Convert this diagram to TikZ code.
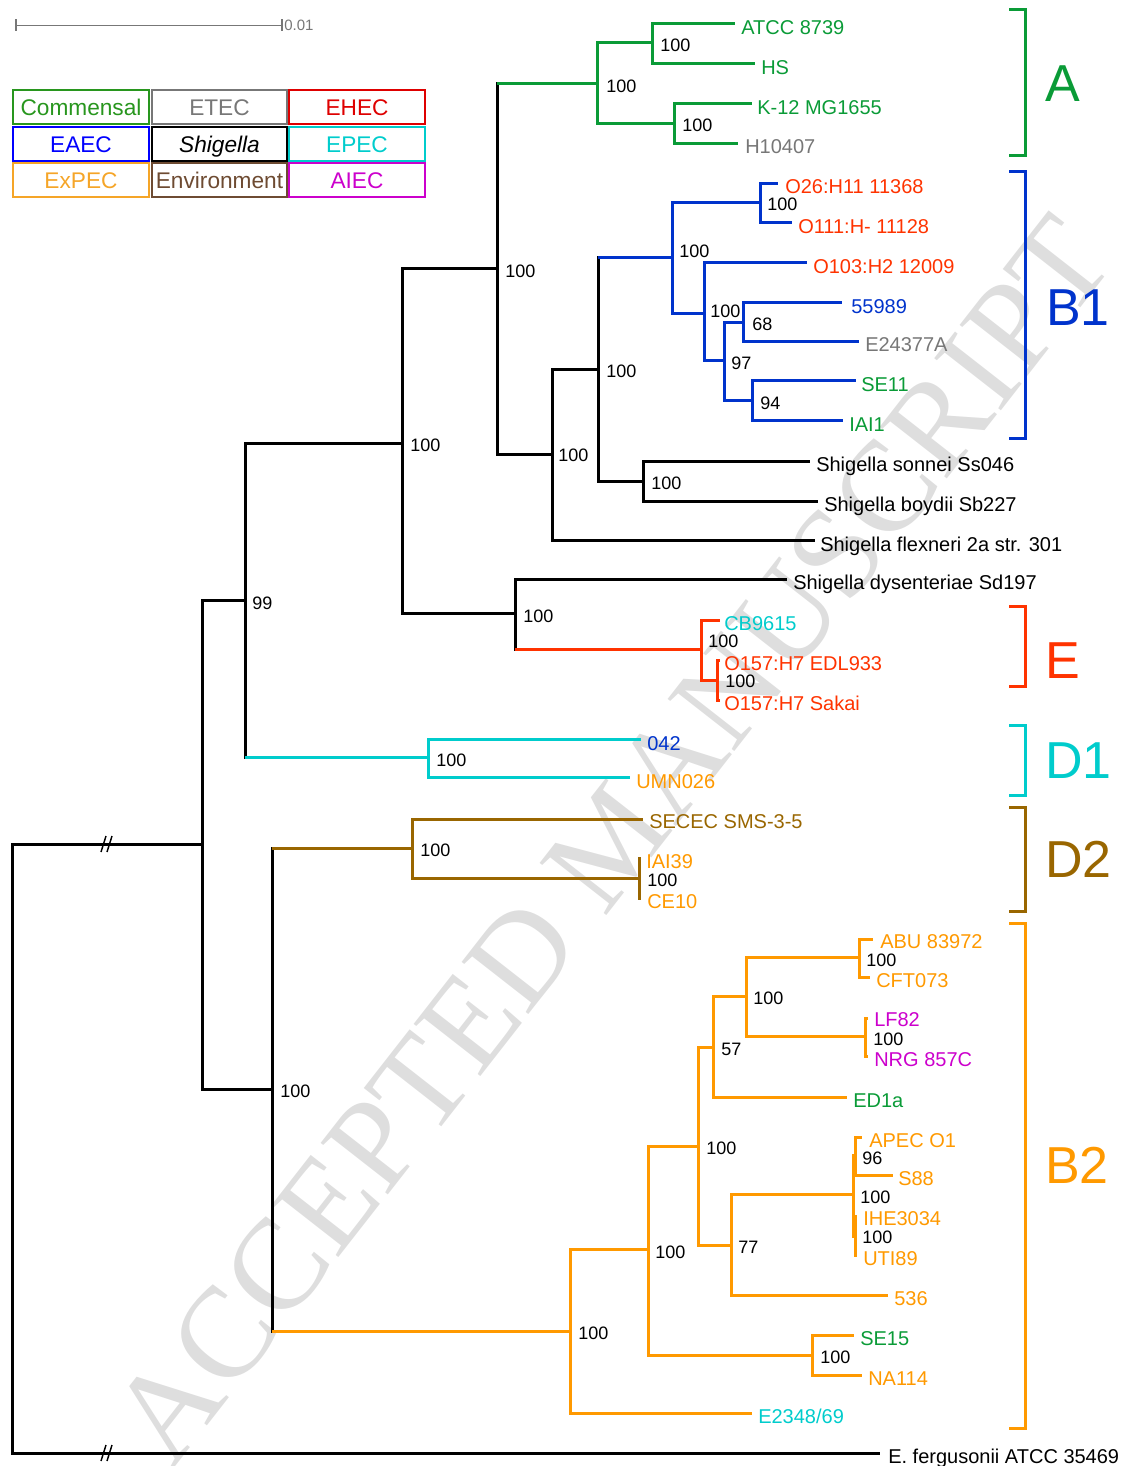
\documentclass[tikz,border=0pt]{standalone}
\usepackage{fontspec}
\setmainfont{Liberation Sans}
\newfontfamily\wmfont{Liberation Serif}
\definecolor{tgreen}{RGB}{10,155,55}
\definecolor{lgreen}{RGB}{40,150,30}
\definecolor{tblue}{RGB}{0,51,204}
\definecolor{lblue}{RGB}{0,0,255}
\definecolor{tred}{RGB}{255,51,0}
\definecolor{lred}{RGB}{222,0,0}
\definecolor{tcyan}{RGB}{0,204,204}
\definecolor{torange}{RGB}{255,153,0}
\definecolor{lorange}{RGB}{245,165,40}
\definecolor{tbrown}{RGB}{153,102,0}
\definecolor{lbrown}{RGB}{110,75,50}
\definecolor{tmag}{RGB}{204,0,204}
\definecolor{tgray}{RGB}{119,119,119}
\definecolor{wmgray}{RGB}{222,222,222}
\newcommand\clade[6]{%
  \draw[br,#1,line cap=rect] (#2 |- #3) -- (#2 |- #5);
  \draw[br,#4] (#2 |- #3) -- (#3);
  \draw[br,#6] (#2 |- #5) -- (#5);}
\begin{document}
\begin{tikzpicture}[x=0.75pt,y=-0.75pt,
  br/.style={line width=2.25pt},
  tl/.style={anchor=west,inner sep=0pt,font=\fontsize{15}{18}\selectfont,text height=10.74pt,text depth=0pt},
  bs/.style={anchor=west,inner sep=0pt,font=\fontsize{13.5}{16}\selectfont,text height=9.67pt,text depth=0pt,text=black},
  cl/.style={anchor=west,inner sep=0pt,font=\fontsize{39}{44}\selectfont,text height=27.9pt,text depth=0pt},
  brk/.style={line width=2.25pt},
  lg/.style={line width=1.5pt},
  lgt/.style={inner sep=0pt,font=\fontsize{17}{20}\selectfont,text height=12.2pt,text depth=0pt},
  wm/.style={inner sep=0pt,font=\wmfont\fontsize{97}{100}\selectfont,text=wmgray,rotate=52}]
\useasboundingbox (0,0) rectangle (1125,1466);
\node[wm] (wmark) at (612,840) {ACCEPTED MANUSCRIPT};
% scale bar
\coordinate (sb1) at (16,25.5);
\coordinate (sb2) at (282,25.5);
\draw[tgray,line width=1.2pt] (sb1) -- (sb2);
\draw[tgray,line width=1.2pt] ([yshift=4.5pt]sb1) -- ([yshift=-4.5pt]sb1);
\draw[tgray,line width=1.2pt] ([yshift=4.5pt]sb2) -- ([yshift=-4.5pt]sb2);
\node[anchor=west,inner sep=0pt,font=\fontsize{11.25}{13}\selectfont,text=tgray,text height=8pt,text depth=0pt] (sbl) at (284,25.5) {0.01};
% legend
\draw[lg,lgreen] (13,90) rectangle (149,124);
\draw[lg,tgray] (152,90) rectangle (287,124);
\draw[lg,lred] (289,90) rectangle (425,124);
\draw[lg,lblue] (13,127) rectangle (149,161);
\draw[lg,black] (152,127) rectangle (287,161);
\draw[lg,tcyan] (289,127) rectangle (425,161);
\draw[lg,lorange] (13,163) rectangle (149,197);
\draw[lg,lbrown] (152,163) rectangle (287,197);
\draw[lg,tmag] (289,163) rectangle (425,197);
\node[lgt,text=lgreen] (lg1) at (81,107) {Commensal};
\node[lgt,text=tgray] (lg2) at (219.5,107) {ETEC};
\node[lgt,text=lred] (lg3) at (357,107) {EHEC};
\node[lgt,text=lblue] (lg4) at (81,144) {EAEC};
\node[lgt,text=black] (lg5) at (219.5,144) {\itshape Shigella};
\node[lgt,text=tcyan] (lg6) at (357,144) {EPEC};
\node[lgt,text=lorange] (lg7) at (81,180) {ExPEC};
\node[lgt,text=lbrown] (lg8) at (219.5,180) {Environment};
\node[lgt,text=tmag] (lg9) at (357,180) {AIEC};
% tips
\coordinate (tATCC) at (735,24);
\coordinate (tHS) at (755,64);
\coordinate (tK12) at (752,104);
\coordinate (tH10) at (738,144);
\coordinate (tO26) at (778,183);
\coordinate (tO111) at (792,222);
\coordinate (tO103) at (807,262);
\coordinate (t559) at (842,302);
\coordinate (tE24) at (859,341);
\coordinate (tSE11) at (856,380);
\coordinate (tIAI1) at (843,420);
\coordinate (tSon) at (810,461);
\coordinate (tBoy) at (818,501);
\coordinate (tFle) at (815,540);
\coordinate (tDys) at (787,579);
\coordinate (tCB) at (720,620);
\coordinate (tEDL) at (720,660);
\coordinate (tSak) at (720,700);
\coordinate (t042) at (641,739);
\coordinate (tUMN) at (630,777);
\coordinate (tSEC) at (643,819);
\coordinate (tIAI39) at (641,858);
\coordinate (tCE10) at (641,898);
\coordinate (tABU) at (873,939);
\coordinate (tCFT) at (870,977);
\coordinate (tLF) at (868,1018);
\coordinate (tNRG) at (868,1056);
\coordinate (tED1) at (847,1097);
\coordinate (tAPEC) at (862,1137);
\coordinate (tS88) at (893,1175);
\coordinate (tIHE) at (857,1216);
\coordinate (tUTI) at (857,1255);
\coordinate (t536) at (888,1295);
\coordinate (tSE15) at (854,1335);
\coordinate (tNA) at (862,1375);
\coordinate (tE23) at (752,1413);
\coordinate (tFer) at (880,1453);
% internal nodes
\coordinate (root) at (12,1150);
\coordinate (n1) at (202,844);
\coordinate (n245) at (245,600);
\coordinate (n402) at (402,443);
\coordinate (n497) at (497,268);
\coordinate (nA) at (597,84);
\coordinate (nA1) at (652,43);
\coordinate (nA2) at (674,124);
\coordinate (n552) at (552,454);
\coordinate (n598) at (598,369);
\coordinate (nB1) at (672,257);
\coordinate (nB1a) at (760,202);
\coordinate (nB1b) at (704,313);
\coordinate (nB1c) at (724,360);
\coordinate (nB1d) at (743,322);
\coordinate (nB1e) at (752,400);
\coordinate (nSh) at (643,481);
\coordinate (n515) at (515,613);
\coordinate (nE) at (701,649);
\coordinate (nE2) at (717,680);
\coordinate (nD1) at (428,757);
\coordinate (n272) at (272,1089);
\coordinate (nD2) at (412,848);
\coordinate (nD2b) at (639,878);
\coordinate (nB2) at (570,1331);
\coordinate (nB2a) at (648,1249);
\coordinate (nB2b) at (698,1146);
\coordinate (nB2c) at (713,1047);
\coordinate (nB2d) at (746,996);
\coordinate (nB2e) at (859,957);
\coordinate (nB2f) at (865,1036);
\coordinate (nB2g) at (731,1245);
\coordinate (nB2h) at (853,1194);
\coordinate (nB2i) at (855,1155);
\coordinate (nB2j) at (855,1236);
\coordinate (nB2k) at (812,1355);
% branches
\clade{black}{root}{n1}{black}{tFer}{black}
\clade{black}{n1}{n245}{black}{n272}{black}
\clade{black}{n245}{n402}{black}{nD1}{tcyan}
\clade{black}{n402}{n497}{black}{n515}{black}
\clade{black}{n497}{nA}{tgreen}{n552}{black}
\clade{tgreen}{nA}{nA1}{tgreen}{nA2}{tgreen}
\clade{tgreen}{nA1}{tATCC}{tgreen}{tHS}{tgreen}
\clade{tgreen}{nA2}{tK12}{tgreen}{tH10}{tgreen}
\clade{black}{n552}{n598}{black}{tFle}{black}
\clade{black}{n598}{nB1}{tblue}{nSh}{black}
\clade{tblue}{nB1}{nB1a}{tblue}{nB1b}{tblue}
\clade{tblue}{nB1a}{tO26}{tblue}{tO111}{tblue}
\clade{tblue}{nB1b}{tO103}{tblue}{nB1c}{tblue}
\clade{tblue}{nB1c}{nB1d}{tblue}{nB1e}{tblue}
\clade{tblue}{nB1d}{t559}{tblue}{tE24}{tblue}
\clade{tblue}{nB1e}{tSE11}{tblue}{tIAI1}{tblue}
\clade{black}{nSh}{tSon}{black}{tBoy}{black}
\clade{black}{n515}{tDys}{black}{nE}{tred}
\clade{tred}{nE}{tCB}{tred}{nE2}{tred}
\clade{tred}{nE2}{tEDL}{tred}{tSak}{tred}
\clade{tcyan}{nD1}{t042}{tcyan}{tUMN}{tcyan}
\clade{black}{n272}{nD2}{tbrown}{nB2}{torange}
\clade{tbrown}{nD2}{tSEC}{tbrown}{nD2b}{tbrown}
\clade{tbrown}{nD2b}{tIAI39}{tbrown}{tCE10}{tbrown}
\clade{torange}{nB2}{nB2a}{torange}{tE23}{torange}
\clade{torange}{nB2a}{nB2b}{torange}{nB2k}{torange}
\clade{torange}{nB2b}{nB2c}{torange}{nB2g}{torange}
\clade{torange}{nB2c}{nB2d}{torange}{tED1}{torange}
\clade{torange}{nB2d}{nB2e}{torange}{nB2f}{torange}
\clade{torange}{nB2e}{tABU}{torange}{tCFT}{torange}
\clade{torange}{nB2f}{tLF}{torange}{tNRG}{torange}
\clade{torange}{nB2g}{nB2h}{torange}{t536}{torange}
\clade{torange}{nB2h}{nB2i}{torange}{nB2j}{torange}
\clade{torange}{nB2i}{tAPEC}{torange}{tS88}{torange}
\clade{torange}{nB2j}{tIHE}{torange}{tUTI}{torange}
\clade{torange}{nB2k}{tSE15}{torange}{tNA}{torange}
% break marks
\draw[black,line width=1.1pt] (101,852) -- (106,836) (107,852) -- (112,836);
\draw[black,line width=1.1pt] (101,1461) -- (106,1445) (107,1461) -- (112,1445);
% tip labels
\node[tl,text=tgreen] (lATCC) at (741,27) {ATCC 8739};
\node[tl,text=tgreen] (lHS) at (761,67) {HS};
\node[tl,text=tgreen] (lK12) at (757,107) {K-12 MG1655};
\node[tl,text=tgray] (lH10) at (745,146) {H10407};
\node[tl,text=tred] (lO26) at (785,186) {O26:H11 11368};
\node[tl,text=tred] (lO111) at (798,226) {O111:H- 11128};
\node[tl,text=tred] (lO103) at (813,266) {O103:H2 12009};
\node[tl,text=tblue] (l559) at (851,306) {55989};
\node[tl,text=tgray] (lE24) at (865,344) {E24377A};
\node[tl,text=tgreen] (lSE11) at (861,384) {SE11};
\node[tl,text=tgreen] (lIAI1) at (849,424) {IAI1};
\node[tl,text=black] (lSon) at (816,464) {Shigella sonnei Ss046};
\node[tl,text=black] (lBoy) at (824,504) {Shigella boydii Sb227};
\node[tl,text=black] (lFle) at (820,544) {Shigella flexneri 2a str. 301};
\node[tl,text=black] (lDys) at (793,582) {Shigella dysenteriae Sd197};
\node[tl,text=tcyan] (lCB) at (724,623) {CB9615};
\node[tl,text=tred] (lEDL) at (724,663) {O157:H7 EDL933};
\node[tl,text=tred] (lSak) at (724,703) {O157:H7 Sakai};
\node[tl,text=tblue] (l042) at (647,743) {042};
\node[tl,text=torange] (lUMN) at (636,781) {UMN026};
\node[tl,text=tbrown] (lSEC) at (649,821) {SECEC SMS-3-5};
\node[tl,text=torange] (lIAI39) at (646,861) {IAI39};
\node[tl,text=torange] (lCE10) at (647,901) {CE10};
\node[tl,text=torange] (lABU) at (880,941) {ABU 83972};
\node[tl,text=torange] (lCFT) at (876,980) {CFT073};
\node[tl,text=tmag] (lLF) at (874,1019) {LF82};
\node[tl,text=tmag] (lNRG) at (874,1059) {NRG 857C};
\node[tl,text=tgreen] (lED1) at (853,1100) {ED1a};
\node[tl,text=torange] (lAPEC) at (869,1140) {APEC O1};
\node[tl,text=torange] (lS88) at (898,1178) {S88};
\node[tl,text=torange] (lIHE) at (863,1218) {IHE3034};
\node[tl,text=torange] (lUTI) at (863,1258) {UTI89};
\node[tl,text=torange] (l536) at (894,1298) {536};
\node[tl,text=tgreen] (lSE15) at (860,1338) {SE15};
\node[tl,text=torange] (lNA) at (868,1378) {NA114};
\node[tl,text=tcyan] (lE23) at (758,1416) {E2348/69};
\node[tl,text=black] (lFer) at (888,1456) {E. fergusonii ATCC 35469};
% bootstrap
\node[bs] (b1) at (660,45.5) {100};
\node[bs] (b2) at (606,86.5) {100};
\node[bs] (b3) at (682,125.5) {100};
\node[bs] (b4) at (505,271) {100};
\node[bs] (b5) at (767,204.5) {100};
\node[bs] (b6) at (679,251.5) {100};
\node[bs] (b7) at (710,311.5) {100};
\node[bs] (b8) at (752,324.5) {68};
\node[bs] (b9) at (731,363) {97};
\node[bs] (b10) at (760,403) {94};
\node[bs] (b11) at (606,371) {100};
\node[bs] (b12) at (558,455) {100};
\node[bs] (b13) at (651,483) {100};
\node[bs] (b14) at (523,616) {100};
\node[bs] (b15) at (708,641) {100};
\node[bs] (b16) at (725,681) {100};
\node[bs] (b17) at (436,760) {100};
\node[bs] (b18) at (420,850) {100};
\node[bs] (b19) at (647,880) {100};
\node[bs] (b20) at (280,1091) {100};
\node[bs] (b21) at (578,1333) {100};
\node[bs] (b22) at (655,1252) {100};
\node[bs] (b23) at (706,1148) {100};
\node[bs] (b24) at (721,1049) {57};
\node[bs] (b25) at (753,998) {100};
\node[bs] (b26) at (866,960) {100};
\node[bs] (b27) at (873,1039) {100};
\node[bs] (b28) at (738,1247) {77};
\node[bs] (b29) at (860,1197) {100};
\node[bs] (b30) at (862,1158) {96};
\node[bs] (b31) at (862,1237) {100};
\node[bs] (b32) at (820,1357) {100};
\node[bs] (b33) at (252,603) {99};
\node[bs] (b34) at (410,445) {100};
% clade brackets
\draw[brk,tgreen] (1009,10) -- (1025,10) -- (1025,156) -- (1009,156);
\draw[brk,tblue] (1009,172) -- (1025,172) -- (1025,438) -- (1009,438);
\draw[brk,tred] (1009,606) -- (1025,606) -- (1025,686) -- (1009,686);
\draw[brk,tcyan] (1009,725) -- (1025,725) -- (1025,795) -- (1009,795);
\draw[brk,tbrown] (1009,807) -- (1025,807) -- (1025,911) -- (1009,911);
\draw[brk,torange] (1009,923) -- (1025,923) -- (1025,1428) -- (1009,1428);
\node[cl,text=tgreen] (cA) at (1045,83) {A};
\node[cl,text=tblue] (cB1) at (1046,307) {B1};
\node[cl,text=tred] (cE) at (1045,660) {E};
\node[cl,text=tcyan] (cD1) at (1045,760) {D1};
\node[cl,text=tbrown] (cD2) at (1045,859) {D2};
\node[cl,text=torange] (cB2) at (1045,1165) {B2};
\end{tikzpicture}
\end{document}
